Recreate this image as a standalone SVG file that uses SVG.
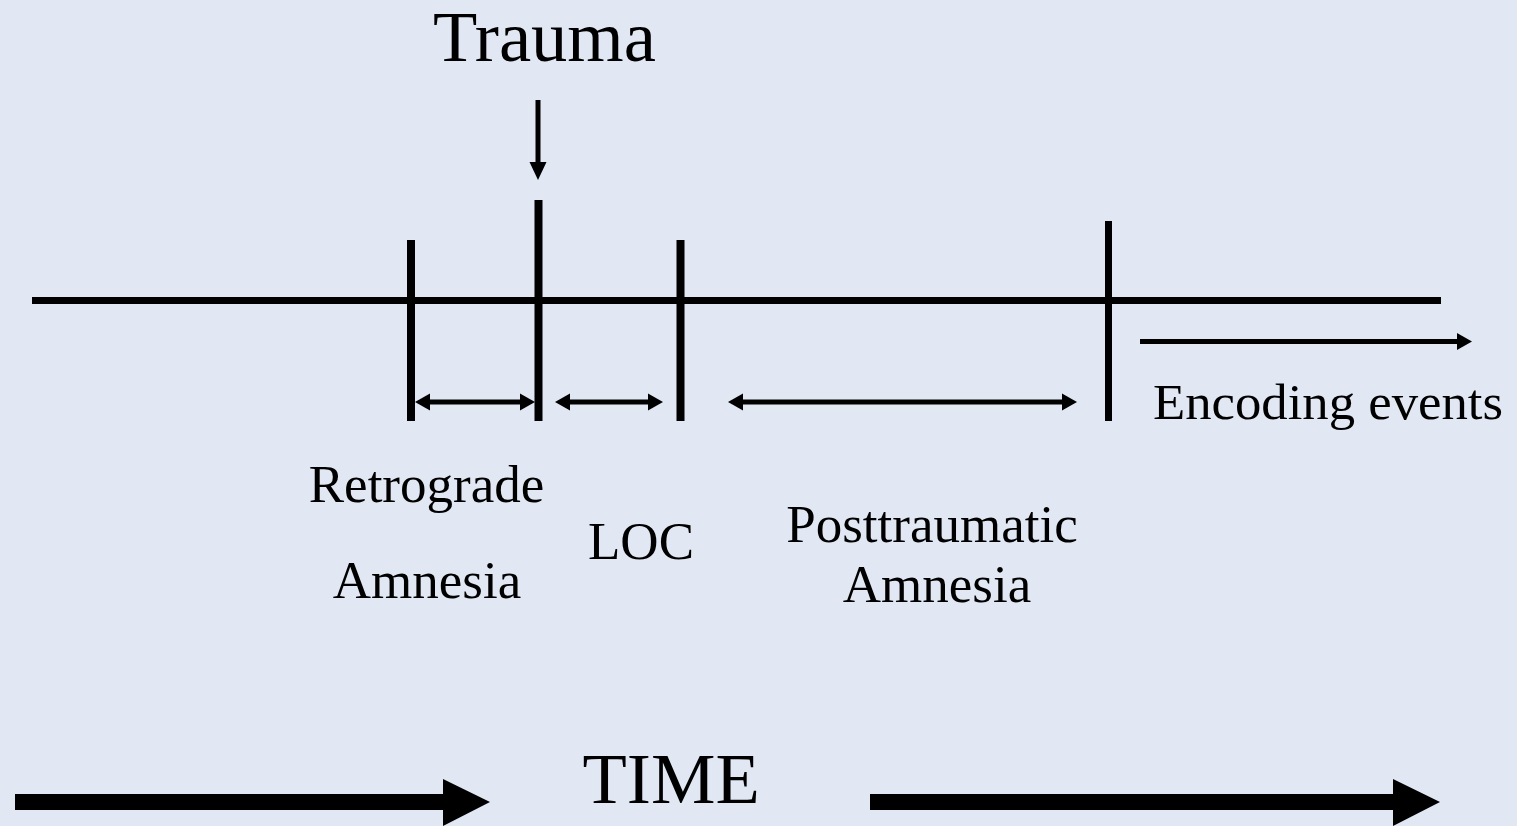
<svg xmlns="http://www.w3.org/2000/svg" width="1517" height="826" viewBox="0 0 1517 826">
<style>
.t{font-family:"Liberation Serif","Times New Roman",serif;fill:#000}
.ln{stroke:#000;fill:none}
.hd{fill:#000}
</style>
<rect width="1517" height="826" fill="#E1E8F4"/>
<g id="timeline">
<line class="ln" x1="32" y1="300.5" x2="1441" y2="300.5" stroke-width="7"/>
<line class="ln" x1="411" y1="240" x2="411" y2="421" stroke-width="8"/>
<line class="ln" x1="538.5" y1="200" x2="538.5" y2="421" stroke-width="8"/>
<line class="ln" x1="680.5" y1="240" x2="680.5" y2="421" stroke-width="8"/>
<line class="ln" x1="1108.5" y1="221" x2="1108.5" y2="421" stroke-width="7"/>
</g>
<g id="connectors">
<line class="ln" x1="538" y1="100" x2="538" y2="164" stroke-width="5"/>
<polygon class="hd" points="529.5,162 546.5,162 538,180"/>
<line class="ln" x1="428" y1="402" x2="522" y2="402" stroke-width="5"/>
<polygon class="hd" points="415,402 430,393.5 430,410.5"/>
<polygon class="hd" points="535,402 520,393.5 520,410.5"/>
<line class="ln" x1="568" y1="402" x2="650" y2="402" stroke-width="5"/>
<polygon class="hd" points="555,402 570,393.5 570,410.5"/>
<polygon class="hd" points="663,402 648,393.5 648,410.5"/>
<line class="ln" x1="741" y1="402" x2="1064" y2="402" stroke-width="5"/>
<polygon class="hd" points="728,402 743,393.5 743,410.5"/>
<polygon class="hd" points="1077,402 1062,393.5 1062,410.5"/>
<line class="ln" x1="1140" y1="341.5" x2="1459" y2="341.5" stroke-width="5"/>
<polygon class="hd" points="1472,341.5 1457,333 1457,350"/>
<path d="M15,794 L443,794 L443,779 L490,802 L443,826 L443,810 L15,810 Z" fill="#000"/>
<path d="M870,794 L1393,794 L1393,779 L1440,802 L1393,826 L1393,810 L870,810 Z" fill="#000"/>
</g>
<g id="trauma"><text class="t" x="433" y="61" font-size="72.5">Trauma</text></g>
<g id="retrograde"><text class="t" x="426.5" y="502" font-size="53" text-anchor="middle">Retrograde</text><text class="t" x="427" y="598" font-size="53" text-anchor="middle">Amnesia</text></g>
<g id="loc"><text class="t" x="588" y="558.5" font-size="53">LOC</text></g>
<g id="posttraumatic"><text class="t" x="932" y="542" font-size="53" text-anchor="middle">Posttraumatic</text><text class="t" x="937" y="602" font-size="53" text-anchor="middle">Amnesia</text></g>
<g id="encoding"><text class="t" x="1153" y="419" font-size="51" textLength="350" lengthAdjust="spacingAndGlyphs">Encoding events</text></g>
<g id="time"><text class="t" x="582.5" y="803" font-size="72.5">TIME</text></g>
</svg>
